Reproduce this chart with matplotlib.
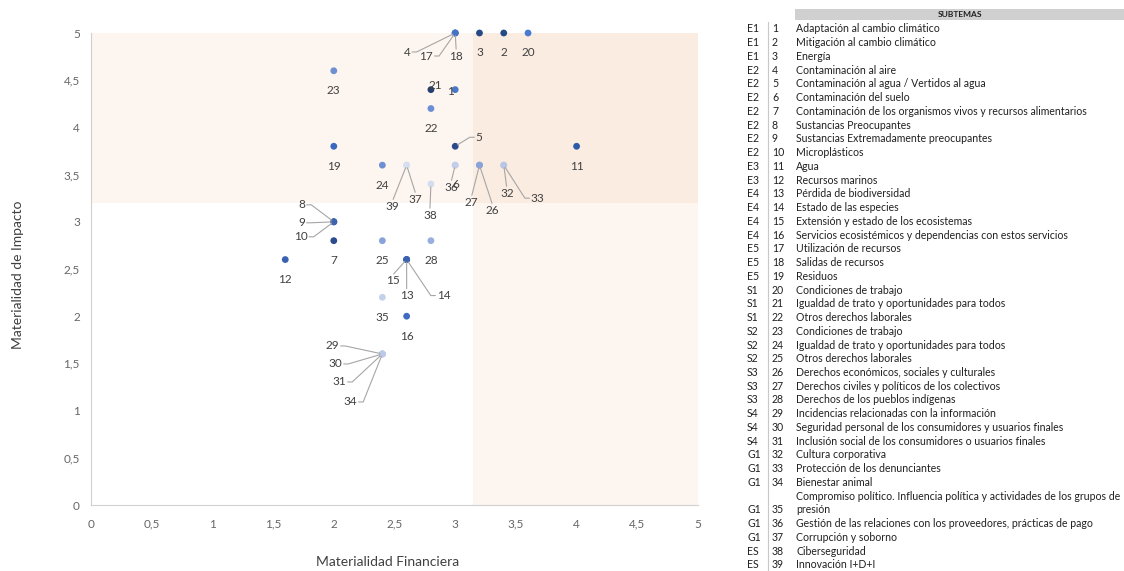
import matplotlib.pyplot as plt
from matplotlib.patches import Rectangle

plt.rcParams['font.family'] = ['Lato', 'DejaVu Sans']

# Datos: materialidad financiera (x) e impacto (y) por subtema
ids = list(range(1, 40))
fin = [3.0, 3.4, 3.2, 3.0, 3.0, 3.0, 2.0, 2.0, 2.0, 2.0,
       4.0, 1.6, 2.6, 2.6, 2.6, 2.6, 3.0, 3.0, 2.0, 3.6,
       2.8, 2.8, 2.0, 2.4, 2.4, 3.2, 3.2, 2.8, 2.4, 2.4,
       2.4, 3.4, 3.4, 2.4, 2.4, 3.0, 2.6, 2.8, 2.6]
imp = [4.4, 5.0, 5.0, 5.0, 3.8, 3.6, 2.8, 3.0, 3.0, 3.0,
       3.8, 2.6, 2.6, 2.6, 2.6, 2.0, 5.0, 5.0, 3.8, 5.0,
       4.4, 4.2, 4.6, 3.6, 2.8, 3.6, 3.6, 2.8, 1.6, 1.6,
       1.6, 3.6, 3.6, 1.6, 2.2, 3.6, 3.6, 3.4, 3.6]
codes = ['E1', 'E1', 'E1', 'E2', 'E2', 'E2', 'E2', 'E2', 'E2', 'E2',
         'E3', 'E3', 'E4', 'E4', 'E4', 'E4', 'E5', 'E5', 'E5', 'S1',
         'S1', 'S1', 'S2', 'S2', 'S2', 'S3', 'S3', 'S3', 'S4', 'S4',
         'S4', 'G1', 'G1', 'G1', 'G1', 'G1', 'G1', 'ES', 'ES']
names = [
    'Adaptación al cambio climático',
    'Mitigación al cambio climático',
    'Energía',
    'Contaminación al aire',
    'Contaminación al agua / Vertidos al agua',
    'Contaminación del suelo',
    'Contaminación de los organismos vivos y recursos alimentarios',
    'Sustancias Preocupantes',
    'Sustancias Extremadamente preocupantes',
    'Microplásticos',
    'Agua',
    'Recursos marinos',
    'Pérdida de biodiversidad',
    'Estado de las especies',
    'Extensión y estado de los ecosistemas',
    'Servicios ecosistémicos y dependencias con estos servicios',
    'Utilización de recursos',
    'Salidas de recursos',
    'Residuos',
    'Condiciones de trabajo',
    'Igualdad de trato y oportunidades para todos',
    'Otros derechos laborales',
    'Condiciones de trabajo',
    'Igualdad de trato y oportunidades para todos',
    'Otros derechos laborales',
    'Derechos económicos, sociales y culturales',
    'Derechos civiles y políticos de los colectivos',
    'Derechos de los pueblos indígenas',
    'Incidencias relacionadas con la información',
    'Seguridad personal de los consumidores y usuarios finales',
    'Inclusión social de los consumidores o usuarios finales',
    'Cultura corporativa',
    'Protección de los denunciantes',
    'Bienestar animal',
    'Compromiso político. Influencia política y actividades de los grupos de\npresión',
    'Gestión de las relaciones con los proveedores, prácticas de pago',
    'Corrupción y soborno',
    'Ciberseguridad',
    'Innovación I+D+I',
]

colors = ['#4a78c8', '#264a85', '#264a85', '#4472c4', '#2a4a8a', '#c3cfea', '#2c4b8c', '#3e64ad', '#3e64ad', '#3e64ad',
          '#2f5aa8', '#3a62b0', '#3a62b0', '#3a62b0', '#3a62b0', '#3f6cc0', '#4472c4', '#4472c4', '#3a68bd', '#4a7bd0',
          '#263f73', '#6a8fd6', '#6f8fd3', '#6f8fd3', '#8aa2da', '#8aa2da', '#8aa2da', '#97aedf', '#bcc9e8', '#bcc9e8',
          '#bcc9e8', '#b8c7e6', '#b8c7e6', '#bcc9e8', '#c5d1ec', '#c3cfea', '#d6def0', '#d4ddf0', '#d6def0']

# posición de cada etiqueta (px respecto al punto) y lado de la línea guía
below = (0, -20, None)
label_pos = {i: below for i in ids}
label_pos.update({
    4: (-48, -19, 'left'), 17: (-29, -23, 'left'), 18: (1, -23, 'below'),
    21: (4, 4, None), 1: (-5, -2, None), 5: (24, 9, 'right'),
    37: (9, -34, 'below'), 39: (-14, -41, 'below'),
    36: (-4, -22, 'below'), 6: (1, -19, None),
    27: (-8, -37, 'below'), 26: (13, -45, 'below'),
    32: (3, -28, 'below'), 33: (34, -33, 'right'),
    38: (-1, -31, 'below'),
    8: (-32, 17, 'left'), 9: (-32, -1, 'left'), 10: (-33, -15, 'left'),
    15: (-14, -21, 'below'), 13: (0, -36, 'below'), 14: (37, -36, 'right'),
    29: (-50, 8, 'left'), 30: (-47, -10, 'left'), 31: (-43, -28, 'left'), 34: (-32, -48, 'left'),
})

fig = plt.figure(figsize=(11.24, 5.71), dpi=100)
ax = fig.add_axes([91 / 1124, 1 - 505 / 571, 607 / 1124, 472 / 571])

# zonas de materialidad
ax.axhspan(3.2, 5, color='#f4b183', alpha=0.12, lw=0, zorder=0)
ax.axvspan(3.15, 5, color='#f4b183', alpha=0.12, lw=0, zorder=0)

ax.scatter(fin, imp, s=24, c=colors, zorder=3, clip_on=False, linewidths=0)

for i, x, y in zip(ids, fin, imp):
    dx, dy, side = label_pos[i]
    arrow = None
    if side == 'left':
        arrow = dict(arrowstyle='-', color='#a6a6a6', lw=0.8, shrinkA=1, shrinkB=2, relpos=(1, 0.5),
                     patchA=None, connectionstyle='arc,angleA=0,armA=6,angleB=0,armB=0,rad=0')
    elif side == 'right':
        arrow = dict(arrowstyle='-', color='#a6a6a6', lw=0.8, shrinkA=1, shrinkB=2, relpos=(0, 0.5),
                     patchA=None, connectionstyle='arc,angleA=180,armA=6,angleB=0,armB=0,rad=0')
    elif side == 'below':
        arrow = dict(arrowstyle='-', color='#a6a6a6', lw=0.8, shrinkA=1, shrinkB=2, relpos=(0.5, 1),
                     patchA=None)
    ax.annotate(str(i), (x, y), xytext=(dx, dy), textcoords='offset pixels',
                ha='center', va='center', fontsize=8.5, color='#404040',
                arrowprops=arrow, zorder=4, annotation_clip=False)

ax.set_xlim(0, 5)
ax.set_ylim(0, 5)
ticks = [0, 0.5, 1, 1.5, 2, 2.5, 3, 3.5, 4, 4.5, 5]
tick_labels = ['0', '0,5', '1', '1,5', '2', '2,5', '3', '3,5', '4', '4,5', '5']
ax.set_xticks(ticks, tick_labels)
ax.set_yticks(ticks, tick_labels)
ax.tick_params(length=0, labelsize=8.5, labelcolor='#666666')
ax.tick_params(axis='x', pad=10)
ax.tick_params(axis='y', pad=8)
for s in ['top', 'right']:
    ax.spines[s].set_visible(False)
for s in ['left', 'bottom']:
    ax.spines[s].set_color('#d0d0d0')
    ax.spines[s].set_linewidth(0.8)

fig.text(18 / 1124, 1 - 275 / 571, 'Materialidad de Impacto', rotation=90,
         ha='center', va='center', fontsize=10, color='#404040')
fig.text(388 / 1124, 1 - 562 / 571, 'Materialidad Financiera',
         ha='center', va='center', fontsize=10, color='#404040')

# tabla de subtemas
fig.patches.append(Rectangle((795 / 1124, 1 - 20 / 571), 329 / 1124, 11 / 571,
                             transform=fig.transFigure, color='#d0d0d0', lw=0))
fig.text(960 / 1124, 1 - 14.5 / 571, 'SUBTEMAS', ha='center', va='center',
         fontsize=6, fontweight='bold', color='#202020')
fig.add_artist(plt.Line2D([768 / 1124, 768 / 1124], [1 - 22 / 571, 0],
                          transform=fig.transFigure, color='#c8c8c8', lw=0.8))

row_h = 13.74
line = 0
for i, code, name in zip(ids, codes, names):
    parts = name.split('\n')
    ytop = 29 + line * row_h
    if len(parts) > 1:
        fig.text(796 / 1124, 1 - ytop / 571, parts[0], ha='left', va='center',
                 fontsize=7.6, color='#202020')
        line += 1
        ytop = 29 + line * row_h
        name = parts[1]
    fig.text(747 / 1124, 1 - ytop / 571, code, ha='left', va='center', fontsize=7.6, color='#202020')
    fig.text(772 / 1124, 1 - ytop / 571, str(i), ha='left', va='center', fontsize=7.6, color='#202020')
    fig.text(796 / 1124, 1 - ytop / 571, name, ha='left', va='center', fontsize=7.6, color='#202020')
    line += 1

fig.savefig('out.png', dpi=100)
